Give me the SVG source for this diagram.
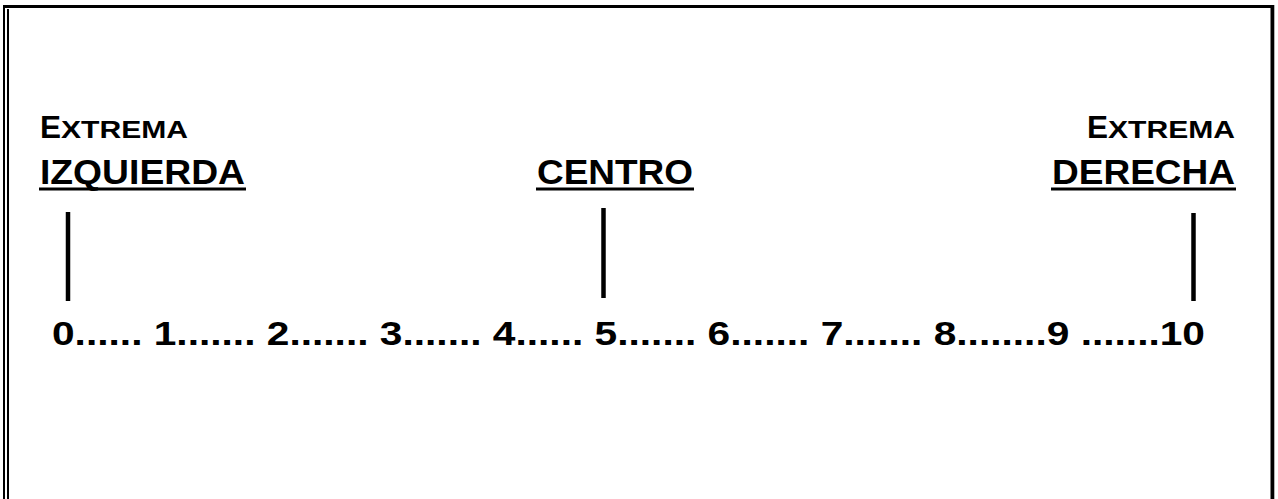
<svg xmlns="http://www.w3.org/2000/svg" width="1278" height="499" viewBox="0 0 1278 499">
<style>
text{font-family:"Liberation Sans",Arial,sans-serif;font-weight:bold;fill:#000}
.big{font-size:35px}
.capE{font-size:32px}
.sc{font-size:23.5px}
.num{font-size:34px}
.ul{fill:#000}
.tick{stroke:#000;stroke-width:4.5}
</style>
<rect width="1278" height="499" fill="#fff"/>
<g id="frame" fill="#000">
<rect x="3" y="5" width="1271" height="3"/>
<rect x="3" y="5" width="2" height="494"/>
<rect x="7" y="9" width="2" height="490"/>
<rect x="1270.5" y="5" width="3.8" height="494"/>
</g>
<g id="node-izquierda">
<text x="40" y="138" class="capE" textLength="21" lengthAdjust="spacingAndGlyphs">E</text>
<text x="61" y="138" class="sc" textLength="127" lengthAdjust="spacingAndGlyphs">XTREMA</text>
<text x="40" y="184" class="big" textLength="205" lengthAdjust="spacingAndGlyphs">IZQUIERDA</text>
<rect class="ul" x="39" y="187.5" width="207" height="3"/>
</g>
<g id="node-centro">
<text x="537" y="184" class="big" textLength="156" lengthAdjust="spacingAndGlyphs">CENTRO</text>
<rect class="ul" x="536" y="187.5" width="158" height="3"/>
</g>
<g id="node-derecha">
<text x="1087" y="138" class="capE" textLength="21" lengthAdjust="spacingAndGlyphs">E</text>
<text x="1108" y="138" class="sc" textLength="127" lengthAdjust="spacingAndGlyphs">XTREMA</text>
<text x="1052" y="184" class="big" textLength="183" lengthAdjust="spacingAndGlyphs">DERECHA</text>
<rect class="ul" x="1051" y="187.5" width="185" height="3"/>
</g>
<g id="connectors">
<line class="tick" x1="68" y1="212" x2="68" y2="301"/>
<line class="tick" x1="603.5" y1="208" x2="603.5" y2="298"/>
<line class="tick" x1="1193.5" y1="213" x2="1193.5" y2="301"/>
</g>
<g id="node-scale">
<text x="52" y="345" class="num" textLength="1153" lengthAdjust="spacingAndGlyphs">0...... 1....... 2....... 3....... 4...... 5....... 6....... 7....... 8........9 .......10</text>
</g>
</svg>
